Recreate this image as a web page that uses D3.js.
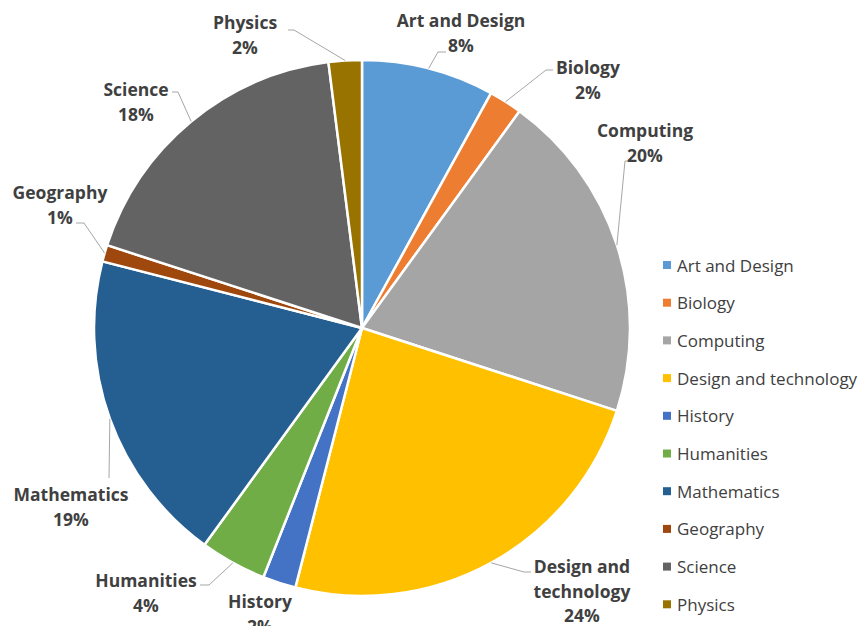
<!DOCTYPE html>
<html>
<head>
<meta charset="utf-8">
<script src="https://cdn.jsdelivr.net/npm/d3@7"></script>
<style>
  html, body { margin: 0; padding: 0; background: #fff; }
  svg { display: block; }
</style>
</head>
<body>
<svg id="chart" width="859" height="626"></svg>
<script>
// Subjects and their share of the total (percent)
const subjects = ["Art and Design", "Biology", "Computing", "Design and technology", "History",
                  "Humanities", "Mathematics", "Geography", "Science", "Physics"];
const shares = [8, 2, 20, 24, 2, 4, 19, 1, 18, 2];
const sliceColors = ["#5B9BD5", "#ED7D31", "#A5A5A5", "#FFC000", "#4472C4",
                     "#70AD47", "#255E91", "#9E480E", "#636363", "#997300"];

// Label placement: text centre lines and leader line start / elbow
const labelLayout = {
  "Art and Design":        { x: 461, y: 20,  lines: ["Art and Design"], lead: [[446, 52], [438, 52]] },
  "Biology":               { x: 588, y: 67,  lines: ["Biology"], lead: [[553, 70], [546, 70]] },
  "Computing":             { x: 645, y: 130, lines: ["Computing"], lead: [[629, 161], [625, 161]] },
  "Design and technology": { x: 582, y: 566, lines: ["Design and", "technology"], lead: [[531, 572], [524, 572]] },
  "History":               { x: 260, y: 601, lines: ["History"], lead: null },
  "Humanities":            { x: 146, y: 580, lines: ["Humanities"], lead: [[200, 585], [209, 585]] },
  "Mathematics":           { x: 71,  y: 494, lines: ["Mathematics"], lead: [[109, 478], [109, 478]] },
  "Geography":             { x: 60,  y: 192, lines: ["Geography"], lead: [[76, 223], [84, 223]] },
  "Science":               { x: 136, y: 89,  lines: ["Science"], lead: [[172, 92], [178, 92]] },
  "Physics":               { x: 245, y: 22,  lines: ["Physics"], lead: [[288, 30], [294, 30]] }
};

const svg = d3.select("#chart");
const cx = 362, cy = 328, radius = 268;
const lineH = 24.5;

const color = d3.scaleOrdinal().domain(subjects).range(sliceColors);
const data = subjects.map((s, i) => ({ name: s, value: shares[i] }));

const pie = d3.pie().value(d => d.value).sort(null);
const arcs = pie(data);
const arc = d3.arc().innerRadius(0).outerRadius(radius);

const g = svg.append("g").attr("transform", `translate(${cx},${cy})`);

g.selectAll("path.slice")
  .data(arcs)
  .join("path")
  .attr("class", "slice")
  .attr("d", arc)
  .attr("fill", d => color(d.data.name))
  .attr("stroke", "#fff")
  .attr("stroke-width", 2.5)
  .attr("stroke-linejoin", "round");

// Leader lines from label to the slice edge at its mid angle
arcs.forEach(a => {
  const L = labelLayout[a.data.name];
  if (!L.lead) return;
  const mid = (a.startAngle + a.endAngle) / 2;
  const ex = cx + radius * Math.sin(mid);
  const ey = cy - radius * Math.cos(mid);
  const pts = [L.lead[0], L.lead[1], [ex, ey]];
  svg.append("path")
    .attr("d", d3.line()(pts))
    .attr("fill", "none")
    .attr("stroke", "#a6a6a6")
    .attr("stroke-width", 1);
});

// Data labels: category name + percentage
const fmt = v => d3.format(".0%")(v / d3.sum(shares));
arcs.forEach(a => {
  const L = labelLayout[a.data.name];
  const t = svg.append("text")
    .attr("x", L.x)
    .attr("y", L.y)
    .attr("text-anchor", "middle")
    .attr("dominant-baseline", "central")
    .attr("font-family", "'Open Sans', Lato, sans-serif")
    .attr("font-weight", "bold")
    .attr("font-size", 17.5)
    .attr("fill", "#404040");
  const lines = L.lines.concat([fmt(a.data.value)]);
  lines.forEach((ln, i) => {
    t.append("tspan").attr("x", L.x).attr("dy", i === 0 ? 0 : lineH).text(ln);
  });
});

// Legend
const legend = svg.append("g").attr("transform", "translate(663,265)");
const legendStep = 37.7;
const items = legend.selectAll("g.item")
  .data(subjects)
  .join("g")
  .attr("class", "item")
  .attr("transform", (d, i) => `translate(0,${i * legendStep})`);
items.append("rect")
  .attr("x", 0).attr("y", -4)
  .attr("width", 8).attr("height", 8)
  .attr("fill", d => color(d));
items.append("text")
  .attr("x", 14)
  .attr("y", 0)
  .attr("dominant-baseline", "central")
  .attr("font-family", "'Open Sans', Lato, sans-serif")
  .attr("font-size", 17)
  .attr("fill", "#404040")
  .text(d => d);
</script>
</body>
</html>
